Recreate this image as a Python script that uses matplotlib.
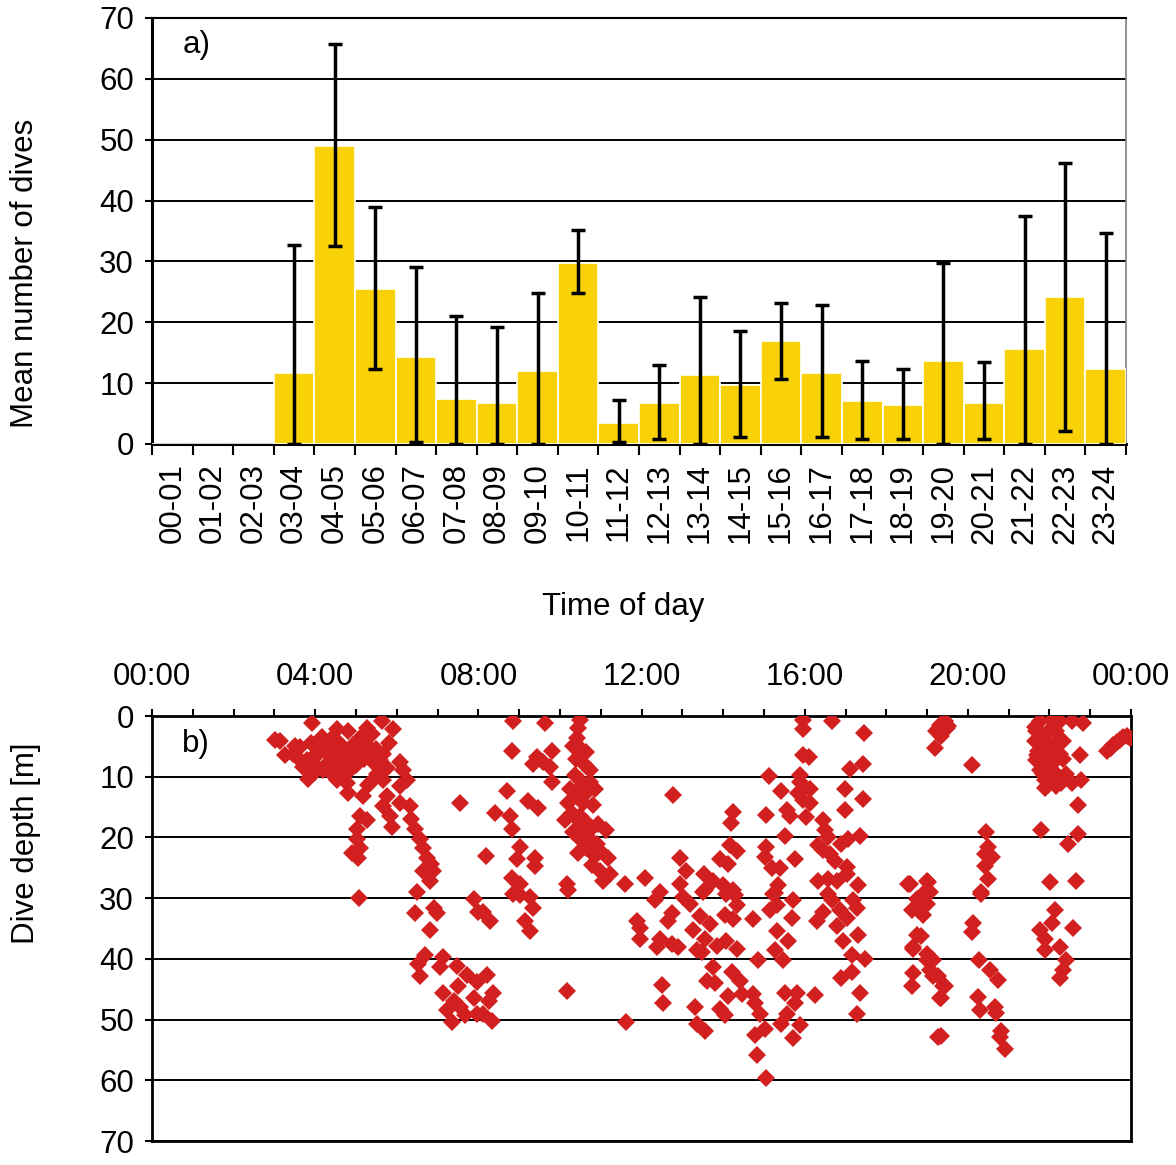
# Dive activity by time of day: a) mean number of dives per hour, b) dive depths
import numpy as np
import matplotlib.pyplot as plt

plt.rcParams['font.family'] = ['Liberation Sans', 'DejaVu Sans']
plt.rcParams['font.size'] = 22.5

# ---- panel a data ----
hours = ["00-01", "01-02", "02-03", "03-04", "04-05", "05-06", "06-07", "07-08",
         "08-09", "09-10", "10-11", "11-12", "12-13", "13-14", "14-15", "15-16",
         "16-17", "17-18", "18-19", "19-20", "20-21", "21-22", "22-23", "23-24"]
mean_dives = [0, 0, 0, 11.7, 49.0, 25.4, 14.3, 7.4, 6.7, 12.0, 29.7, 3.4,
              6.7, 11.3, 9.7, 16.9, 11.7, 7.1, 6.4, 13.6, 6.7, 15.6, 24.1, 12.3]
err_upper = [0, 0, 0, 21.0, 16.7, 13.5, 14.8, 13.6, 12.6, 12.8, 5.4, 3.8,
             6.3, 12.9, 8.9, 6.3, 11.2, 6.6, 6.0, 16.1, 6.7, 21.9, 22.0, 22.3]
err_lower = [0, 0, 0, 11.7, 16.4, 13.0, 14.0, 7.4, 6.7, 12.0, 4.9, 3.1,
             5.8, 11.3, 8.5, 6.2, 10.5, 6.2, 5.5, 13.6, 5.8, 15.6, 21.9, 12.3]

# ---- panel b data: (hour of day, depth in m) ----
dives_early = [(3.01, 3.9), (3.14, 4.1), (3.26, 6.5), (3.46, 6.3), (3.63, 5.1), (3.71, 8.4),
               (3.79, 7.3), (3.83, 10.3), (3.91, 1.2), (3.95, 6.8), (4.00, 9.2), (4.07, 6.3),
               (4.16, 3.5), (4.20, 8.9), (4.28, 4.7), (4.28, 7.9), (4.40, 3.6), (4.40, 7.1),
               (4.53, 2.2), (4.53, 9.2), (4.53, 10.5), (4.61, 6.3), (4.61, 7.9), (4.69, 5.1),
               (4.69, 10.0), (4.77, 7.3), (4.77, 11.1), (4.81, 2.5), (4.81, 12.7), (4.85, 8.9),
               (4.93, 4.7), (5.10, 3.6), (5.10, 6.3), (5.18, 4.1), (5.26, 2.0), (5.34, 5.2),
               (5.34, 11.1), (5.42, 7.6), (5.51, 9.5), (5.59, 7.3), (5.63, 0.9), (5.67, 6.3),
               (5.67, 10.5), (5.91, 2.2), (6.08, 7.5), (6.16, 8.9), (6.24, 10.5), (6.08, 11.6),
               (3.50, 5.0), (3.90, 4.5), (4.10, 5.5), (4.30, 6.0), (4.50, 4.0), (4.60, 5.5),
               (4.90, 6.5), (5.00, 8.0), (5.20, 7.0), (5.40, 3.0), (5.50, 5.5), (4.40, 9.5),
               (4.00, 8.0), (3.60, 7.0), (5.80, 4.5), (5.75, 8.5)]
dives_descent = [(5.30, 11.3), (5.18, 13.2), (5.75, 13.2), (5.67, 14.8), (5.83, 16.4), (5.87, 18.3),
                 (6.08, 14.3), (6.32, 14.8), (6.36, 17.0), (6.45, 18.6), (6.57, 20.2), (6.65, 21.8),
                 (6.73, 23.4), (6.85, 24.4), (6.64, 25.5), (6.89, 25.5), (6.81, 27.1), (6.49, 29.0),
                 (5.10, 16.4), (5.26, 17.2), (5.02, 18.6), (5.02, 20.2), (5.10, 21.8), (4.89, 22.6),
                 (5.06, 23.4), (5.08, 29.9), (7.55, 14.3)]
dives_morning_deep = [(6.45, 32.5), (6.90, 31.7), (6.98, 32.5), (6.81, 35.2), (7.88, 30.1), (7.99, 32.2),
                      (6.69, 39.4), (6.53, 40.8), (6.57, 42.9), (7.14, 39.7), (7.06, 41.3), (7.47, 41.1),
                      (7.71, 42.7), (7.96, 43.8), (7.14, 45.6), (7.51, 44.5), (7.39, 46.9), (7.22, 48.5),
                      (7.55, 48.0), (7.35, 50.4), (7.67, 49.3), (7.88, 46.4), (7.96, 49.1), (8.20, 42.7),
                      (8.37, 45.6), (8.25, 46.9), (8.12, 49.1), (8.33, 50.2)]
dives_0800 = [(8.86, 0.9), (9.63, 1.2), (8.82, 5.7), (9.43, 6.8), (9.35, 7.9), (9.59, 7.6),
              (9.80, 5.7), (9.76, 8.4), (9.80, 10.8), (8.69, 12.4), (9.22, 14.0), (9.47, 15.2),
              (8.41, 15.9), (8.77, 16.4), (8.82, 18.6), (8.19, 23.0), (9.02, 21.5), (8.94, 23.6),
              (9.39, 23.4), (9.39, 24.7), (8.82, 26.6), (9.02, 27.7), (9.02, 29.5), (8.86, 29.3),
              (9.26, 29.8), (9.35, 31.7), (9.14, 33.8), (9.26, 35.4), (8.12, 32.2), (8.28, 33.8),
              (10.20, 28.7), (10.16, 27.7), (10.18, 45.3)]
dives_1030 = [(10.49, 0.6), (10.45, 2.0), (10.41, 3.6), (10.33, 4.9), (10.49, 5.2), (10.65, 6.0),
              (10.61, 8.1), (10.74, 8.9), (10.37, 9.7), (10.49, 10.5), (10.74, 10.8), (10.86, 12.1),
              (10.25, 12.1), (10.41, 13.2), (10.20, 14.3), (10.57, 14.3), (10.82, 14.6), (10.29, 15.9),
              (10.49, 16.4), (10.12, 17.2), (10.65, 17.5), (10.94, 17.8), (11.14, 18.8), (10.33, 19.1),
              (10.49, 20.2), (10.74, 20.2), (10.90, 21.0), (10.65, 21.8), (10.98, 22.3), (11.18, 23.4),
              (10.78, 24.5), (10.98, 25.5), (11.23, 26.1), (11.06, 27.1), (10.40, 7.0), (10.55, 11.5),
              (10.60, 13.0), (10.35, 16.5), (10.70, 19.0), (10.45, 22.5), (10.85, 23.0), (10.55, 18.0)]
dives_midday = [(11.59, 27.7), (11.63, 50.4), (12.08, 26.7), (12.78, 13.0), (12.94, 23.4), (13.10, 25.5),
                (12.94, 27.7), (12.45, 29.0), (11.88, 33.8), (11.96, 34.9), (11.96, 36.8), (12.33, 30.3),
                (12.74, 32.5), (12.65, 33.8), (12.45, 36.8), (12.37, 38.1), (12.74, 37.6), (12.90, 38.1),
                (13.02, 29.8), (13.19, 30.9), (13.27, 35.2), (13.35, 38.6), (12.49, 44.3), (12.53, 47.2),
                (13.31, 48.0), (13.35, 50.7)]
dives_afternoon = [(14.25, 15.8), (15.06, 16.3), (15.13, 9.8), (15.42, 12.4), (15.56, 15.4), (15.64, 16.4),
                   (14.20, 17.6), (15.51, 19.8), (14.17, 21.2), (14.33, 22.3), (15.06, 21.5), (15.02, 23.3),
                   (15.76, 23.5), (13.92, 23.5), (14.13, 24.3), (15.19, 25.1), (15.39, 25.0), (13.53, 26.1),
                   (13.76, 27.1), (14.00, 27.9), (14.25, 28.7), (15.35, 27.9), (15.27, 29.1), (13.55, 28.7),
                   (13.51, 29.0), (14.08, 29.3), (14.29, 29.5), (14.33, 31.1), (15.23, 29.3), (15.15, 31.9),
                   (15.31, 31.1), (15.72, 30.3), (15.68, 33.3), (14.04, 32.7), (14.25, 33.5), (14.74, 33.5),
                   (13.68, 34.3), (13.43, 33.0), (15.31, 35.4), (15.60, 37.0), (15.27, 38.6), (15.47, 40.2),
                   (13.55, 36.8), (13.84, 37.8), (14.08, 37.0), (14.33, 38.4), (13.47, 38.9), (14.86, 40.2),
                   (13.76, 41.3), (14.21, 42.1), (13.60, 43.7), (13.80, 44.0), (14.41, 43.7), (14.13, 46.1),
                   (14.45, 45.8), (14.74, 45.8), (15.51, 45.6), (15.80, 45.6), (14.78, 47.2), (15.76, 47.2),
                   (13.92, 48.3), (14.04, 49.3), (14.90, 49.1), (15.56, 49.1), (13.55, 51.8), (15.02, 51.5),
                   (15.43, 50.7), (15.88, 50.9), (14.78, 52.6), (15.72, 53.1), (14.82, 55.9), (15.06, 59.7)]
dives_1600 = [(15.95, 0.6), (16.68, 0.9), (15.95, 2.2), (17.46, 2.8), (15.96, 6.5), (16.11, 6.7),
              (17.42, 7.9), (17.12, 8.8), (15.88, 9.7), (15.88, 10.8), (16.13, 12.1), (15.84, 12.7),
              (16.99, 12.0), (15.96, 13.8), (17.42, 13.6), (16.13, 14.3), (16.04, 16.7), (16.99, 15.5),
              (16.45, 17.1), (16.50, 18.8), (16.58, 19.9), (17.35, 19.7), (17.07, 20.2), (16.90, 21.1),
              (16.33, 21.2), (16.45, 22.0), (16.62, 22.8), (16.74, 23.8), (17.03, 24.9), (16.33, 27.1),
              (16.58, 26.8), (16.78, 27.1), (17.03, 26.1), (17.31, 27.9), (16.58, 29.3), (16.66, 30.3),
              (16.45, 32.2), (16.29, 33.8), (16.86, 31.9), (17.03, 33.3), (17.19, 30.3), (17.27, 31.7),
              (16.78, 34.6), (16.94, 37.0), (17.31, 36.0), (17.15, 39.4), (17.48, 40.0), (17.15, 42.1),
              (16.90, 43.2), (17.35, 45.6), (17.27, 49.1), (16.25, 46.0)]
dives_evening = [(18.58, 27.7), (18.54, 27.7), (18.99, 27.1), (18.74, 30.1), (18.82, 31.7), (18.62, 31.9),
                 (18.74, 36.0), (18.66, 38.1), (18.66, 38.4), (18.99, 40.2), (18.66, 42.4), (18.62, 44.5),
                 (19.15, 42.9), (19.39, 44.5), (19.31, 46.4), (19.27, 52.8), (18.90, 29.3), (18.99, 30.9),
                 (18.90, 32.7), (18.86, 36.2), (18.99, 39.2), (19.15, 40.2), (19.07, 41.8), (19.27, 42.9),
                 (19.44, 44.5), (19.35, 46.4), (19.33, 52.7), (19.03, 27.4), (19.07, 29.0),
                 (19.31, 1.4), (19.23, 2.5), (19.44, 0.9), (19.35, 3.3), (19.19, 5.2), (19.48, 2.0),
                 (19.40, 1.2), (19.30, 2.0), (19.50, 1.6)]
dives_2000 = [(20.11, 8.1), (20.45, 19.1), (20.50, 21.5), (20.42, 22.8), (20.58, 23.3), (20.42, 24.7),
              (20.50, 26.8), (20.33, 29.0), (20.33, 29.3), (20.13, 34.1), (20.09, 35.6), (20.26, 40.2),
              (20.54, 41.8), (20.74, 43.4), (20.25, 46.3), (20.29, 48.5), (20.66, 48.0), (20.70, 48.9),
              (20.82, 51.8), (20.78, 52.8), (20.91, 54.9)]
dives_night = [(21.76, 0.9), (22.05, 0.6), (22.25, 0.9), (21.68, 2.5), (21.93, 2.8), (22.17, 2.5),
               (21.64, 4.1), (21.89, 4.4), (22.13, 4.4), (22.34, 4.1), (21.72, 5.7), (22.01, 6.0),
               (22.25, 6.3), (21.68, 7.3), (21.93, 7.6), (22.34, 7.1), (21.76, 8.9), (22.05, 8.9),
               (21.89, 10.5), (21.97, 11.3), (22.29, 11.1), (22.41, 9.5), (22.54, 11.1), (22.78, 10.5),
               (22.54, 0.9), (22.83, 1.2), (22.75, 6.5), (22.70, 14.6), (21.78, 18.7), (22.70, 19.4),
               (22.45, 21.0), (22.02, 27.4), (22.64, 27.1), (22.13, 31.9), (22.05, 34.1), (21.76, 35.2),
               (21.89, 36.8), (21.89, 38.6), (22.25, 38.1), (22.58, 34.9), (22.41, 40.2), (22.32, 41.8),
               (22.25, 43.2), (23.40, 5.7), (23.56, 4.7), (23.73, 3.9), (23.89, 3.3), (23.97, 3.6),
               (21.80, 3.5), (22.00, 5.0), (21.70, 6.5), (22.10, 7.5), (21.85, 9.5), (22.20, 9.8),
               (21.65, 1.8), (22.05, 2.0), (21.90, 11.8), (22.15, 11.5), (23.50, 5.2), (23.65, 4.2),
               (23.80, 3.5)]

dives = (dives_early + dives_descent + dives_morning_deep + dives_0800 + dives_1030 +
         dives_midday + dives_afternoon + dives_1600 + dives_evening + dives_2000 + dives_night)
dive_hour = [d[0] for d in dives]
dive_depth = [d[1] for d in dives]

fig = plt.figure(figsize=(11.76, 11.65), dpi=100)

# ---- a) bar chart ----
ax1 = fig.add_axes([0.1293, 0.6189, 0.8282, 0.3657])
x = np.arange(len(hours))
ax1.bar(x, mean_dives, width=1.0, color="#F8D106", edgecolor="white", linewidth=1.2, zorder=3)
has_bar = np.array(mean_dives) > 0
ax1.errorbar(x[has_bar], np.array(mean_dives)[has_bar],
             yerr=[np.array(err_lower)[has_bar], np.array(err_upper)[has_bar]],
             fmt="none", ecolor="black", elinewidth=2.5, capsize=5, capthick=2.5, zorder=4)
ax1.set_xlim(-0.5, 23.5)
ax1.set_ylim(0, 70)
ax1.set_yticks(range(0, 71, 10))
ax1.yaxis.grid(True, color="black", linewidth=1.4, zorder=0)
ax1.set_axisbelow(True)
ax1.set_xticks(x)
ax1.set_xticklabels(hours, rotation=90)
ax1.set_xticks(np.arange(-0.5, 24, 1), minor=True)
ax1.tick_params(axis="x", which="major", length=0, pad=14)
ax1.tick_params(axis="x", which="minor", length=8, width=1.5, direction="out")
ax1.tick_params(axis="y", length=5, width=1.5, direction="out", pad=8)
ax1.spines["left"].set_linewidth(2.2)
ax1.spines["bottom"].set_linewidth(2.2)
ax1.spines["top"].set_linewidth(1.5)
ax1.spines["right"].set_color("#7f7f7f")
ax1.spines["right"].set_linewidth(1.2)
ax1.set_ylabel("Mean number of dives")
ax1.yaxis.set_label_coords(-0.115, 0.40)
ax1.set_xlabel("Time of day")
ax1.xaxis.set_label_coords(0.484, -0.347)
ax1.text(0.031, 0.937, "a)", transform=ax1.transAxes, va="center", ha="left")

# ---- b) dive depth scatter ----
ax2 = fig.add_axes([0.1293, 0.0206, 0.8325, 0.3648])
ax2.plot(dive_hour, dive_depth, linestyle="none", marker="D", markersize=8.8,
         color="#D21F1F", markeredgewidth=0, zorder=3)
ax2.set_xlim(0, 24)
ax2.set_ylim(70, 0)
ax2.set_yticks(range(0, 71, 10))
ax2.yaxis.grid(True, color="black", linewidth=1.4, zorder=0)
ax2.set_axisbelow(True)
ax2.xaxis.tick_top()
ax2.set_xticks(range(0, 25, 4))
ax2.set_xticklabels(["00:00", "04:00", "08:00", "12:00", "16:00", "20:00", "00:00"])
ax2.set_xticks(range(0, 25), minor=True)
ax2.tick_params(axis="x", which="both", top=True, bottom=False, length=5, width=1.5, pad=12)
ax2.tick_params(axis="y", length=5, width=1.5, direction="out", pad=8)
for side in ["left", "top", "bottom", "right"]:
    ax2.spines[side].set_linewidth(2.0)
ax2.set_ylabel("Dive depth [m]")
ax2.yaxis.set_label_coords(-0.113, 0.70)
ax2.text(0.031, 0.933, "b)", transform=ax2.transAxes, va="center", ha="left")

fig.savefig("out.png", dpi=100)
